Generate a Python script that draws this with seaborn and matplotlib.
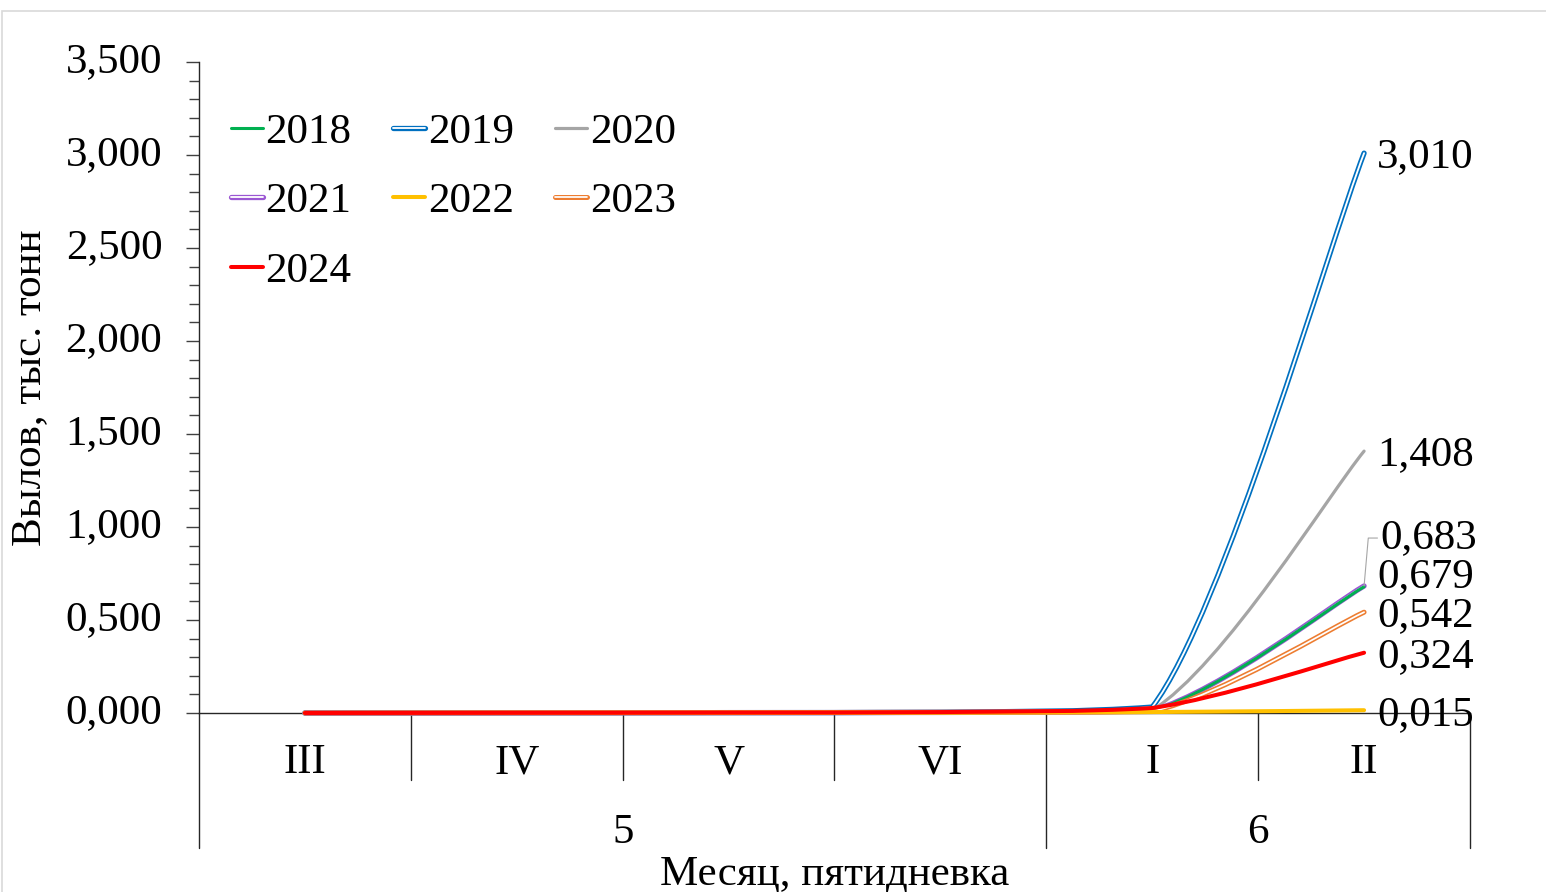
import numpy as np
import pandas as pd
import matplotlib
matplotlib.use("Agg")
import matplotlib.pyplot as plt
import seaborn as sns
from matplotlib.path import Path
from matplotlib.patches import PathPatch, Rectangle
from matplotlib.lines import Line2D
import matplotlib.patheffects as pe
from matplotlib.ticker import MultipleLocator, FuncFormatter
from matplotlib.transforms import blended_transform_factory, ScaledTranslation

# ---------------- data ----------------
pentads = ["III", "IV", "V", "VI", "I", "II"]
months = ["5", "6"]
month_span = [4, 2]
years = ["2018", "2019", "2020", "2021", "2022", "2023", "2024"]

v2018 = [0.000, 0.001, 0.002, 0.003, 0.012, 0.679]
v2019 = [0.000, 0.001, 0.002, 0.004, 0.032, 3.010]
v2020 = [0.000, 0.001, 0.002, 0.003, 0.015, 1.408]
v2021 = [0.000, 0.001, 0.002, 0.003, 0.012, 0.683]
v2022 = [0.000, 0.001, 0.001, 0.002, 0.005, 0.015]
v2023 = [0.000, 0.001, 0.002, 0.004, 0.008, 0.542]
v2024 = [0.000, 0.001, 0.002, 0.005, 0.027, 0.324]
series = [v2018, v2019, v2020, v2021, v2022, v2023, v2024]

# ---------------- style ----------------
colors = {"2018": "#00B050", "2019": "#0070C0", "2020": "#A5A5A5",
          "2021": "#9B57D3", "2022": "#FFC000", "2023": "#ED7D31",
          "2024": "#FF0000"}
double = {"2019", "2021", "2023"}
lwidth = {"2018": 2.2, "2019": 3.8, "2020": 2.3, "2021": 3.8,
          "2022": 2.9, "2023": 3.6, "2024": 2.9}
zorders = {"2019": 3, "2020": 4, "2021": 5, "2018": 6, "2023": 7,
           "2022": 8, "2024": 9}
# label offsets (points) for end-value labels
lab_off = {"2018": (9.4, 7.0), "2019": (9.4, -2.5), "2020": (9.4, -2.5),
           "2021": (12.0, 34.5), "2022": (9.4, -3.0), "2023": (9.4, -2.5),
           "2024": (9.4, -3.0)}

df = pd.DataFrame({
    "pos": list(range(len(pentads))) * len(years),
    "year": np.repeat(years, len(pentads)),
    "value": np.concatenate(series),
})

FS = 31
sns.set_theme(style="white")
plt.rcParams["font.family"] = ["Liberation Serif", "DejaVu Serif"]
plt.rcParams["font.size"] = FS
for k in ["text.color", "axes.labelcolor", "xtick.color", "ytick.color"]:
    plt.rcParams[k] = "black"

W, H = 1546, 892
fig = plt.figure(figsize=(W / 100, H / 100), dpi=100)
fig.subplots_adjust(left=199 / W, right=1470 / W, bottom=179 / H, top=1 - 62 / H)
ax = fig.add_subplot(111)

# outer chart frame
fig.patches.append(Rectangle((2 / W, -0.1), 1.2, 1.1 - 11 / H, transform=fig.transFigure,
                             fill=False, edgecolor="#D9D9D9", lw=1.2, zorder=0))

sns.lineplot(data=df, x="pos", y="value", hue="year", hue_order=years,
             palette=colors, legend=False, ax=ax, sort=False)

ax.set_xlim(-0.5, len(pentads) - 0.5)
ax.set_ylim(0, 3.5)


def smooth_path(xd, yd):
    pts = ax.transData.transform(np.column_stack([xd, yd]))
    n = len(pts)
    verts = [pts[0]]
    codes = [Path.MOVETO]
    for i in range(n - 1):
        p0 = pts[max(i - 1, 0)]
        p1 = pts[i]
        p2 = pts[i + 1]
        p3 = pts[min(i + 2, n - 1)]
        c1 = p1 + (p2 - p0) / 6.0
        c2 = p2 - (p3 - p1) / 6.0
        lo, hi = sorted([p1[1], p2[1]])
        c1[1] = np.clip(c1[1], lo, hi)
        c2[1] = np.clip(c2[1], lo, hi)
        verts += [c1, c2, p2.copy()]
        codes += [Path.CURVE4] * 3
    verts = ax.transData.inverted().transform(np.array(verts))
    return Path(verts, codes)


def effects(y):
    c = colors[y]
    if y in double:
        return [pe.Stroke(linewidth=lwidth[y], foreground=c, capstyle="round"),
                pe.Stroke(linewidth=lwidth[y] * 0.35, foreground="white", capstyle="round")]
    return [pe.Stroke(linewidth=lwidth[y], foreground=c, capstyle="round")]


# replace seaborn's straight segments with Excel-like smoothed curves
lines = list(ax.lines)
for y, ln in zip(years, lines):
    xd, yd = ln.get_xdata(), ln.get_ydata()
    path = smooth_path(np.asarray(xd, float), np.asarray(yd, float))
    patch = PathPatch(path, fill=False, edgecolor=colors[y], lw=lwidth[y],
                      zorder=zorders[y], clip_on=False)
    patch.set_path_effects(effects(y))
    ax.add_patch(patch)
    ln.remove()

# end-value labels
last = len(pentads) - 1
for y, vals in zip(years, series):
    v = vals[-1]
    txt = f"{v:.3f}".replace(".", ",")
    dx, dy = lab_off[y]
    kw = {}
    if y == "2021":
        kw["arrowprops"] = dict(arrowstyle="-", color="#A6A6A6", lw=0.8,
                                shrinkA=0, shrinkB=0, relpos=(0, 0.5),
                                connectionstyle="angle,angleA=0,angleB=85,rad=0")
    ax.annotate(txt, xy=(last, v), xytext=(dx, dy), textcoords="offset points",
                ha="left", va="center", fontsize=FS, color="black", zorder=12,
                annotation_clip=False, **kw)

# y axis
ax.yaxis.set_major_locator(MultipleLocator(0.5))
ax.yaxis.set_minor_locator(MultipleLocator(0.1))
ax.yaxis.set_major_formatter(FuncFormatter(lambda v, p: f"{v:.3f}".replace(".", ",")))
ax.tick_params(axis="y", which="major", direction="out", length=9.4, width=1.0,
               color="#404040", pad=17, labelsize=FS, left=True)
ax.tick_params(axis="y", which="minor", direction="out", length=7.2, width=1.0,
               color="#404040", left=True)
ax.set_ylabel("Вылов, тыс. тонн", fontsize=FS, labelpad=12)
for lab in ax.get_yticklabels():
    lab.set_transform(lab.get_transform() + ScaledTranslation(0, 3 / 72, fig.dpi_scale_trans))

# x axis: two-level categories
ax.set_xticks(range(len(pentads)))
ax.set_xticklabels(pentads)
ax.tick_params(axis="x", which="both", length=0, pad=22, labelsize=FS, bottom=False)
sns.despine(ax=ax, top=True, right=True)
for s in ["left", "bottom"]:
    ax.spines[s].set_color("#262626")
    ax.spines[s].set_linewidth(1.0)

bt = blended_transform_factory(ax.transData, ax.transAxes)
short_d = -67 / 651
long_d = -135 / 651
bounds = np.cumsum([0] + month_span) - 0.5
for i in range(len(pentads) + 1):
    xb = i - 0.5
    d = long_d if np.any(np.isclose(bounds, xb)) else short_d
    ax.add_line(Line2D([xb, xb], [0, d], transform=bt, color="#262626", lw=1.0,
                       clip_on=False))
for m, a, b in zip(months, bounds[:-1], bounds[1:]):
    ax.text((a + b) / 2, -120 / 651, m, transform=bt, ha="center", va="center",
            fontsize=FS)
ax.set_xlabel("")
ax.text(0.5, -162 / 651, "Месяц, пятидневка", transform=ax.transAxes,
        ha="center", va="center", fontsize=FS)

# legend (row-major order emulated)
order = ["2018", "2021", "2024", "2019", "2022", "2020", "2023"]
handles = []
for y in order:
    h = Line2D([], [], color=colors[y], lw=lwidth[y], solid_capstyle="round")
    h.set_path_effects(effects(y))
    handles.append(h)
leg = ax.legend(handles, order, ncol=3, loc="upper left",
                bbox_to_anchor=(32 / 1271, 1 - 51 / 651), frameon=False,
                fontsize=FS, handlelength=0.74, handletextpad=0.06,
                columnspacing=0.97, labelspacing=0.70, borderaxespad=0,
                borderpad=0)

fig.savefig("out.png", dpi=100)
